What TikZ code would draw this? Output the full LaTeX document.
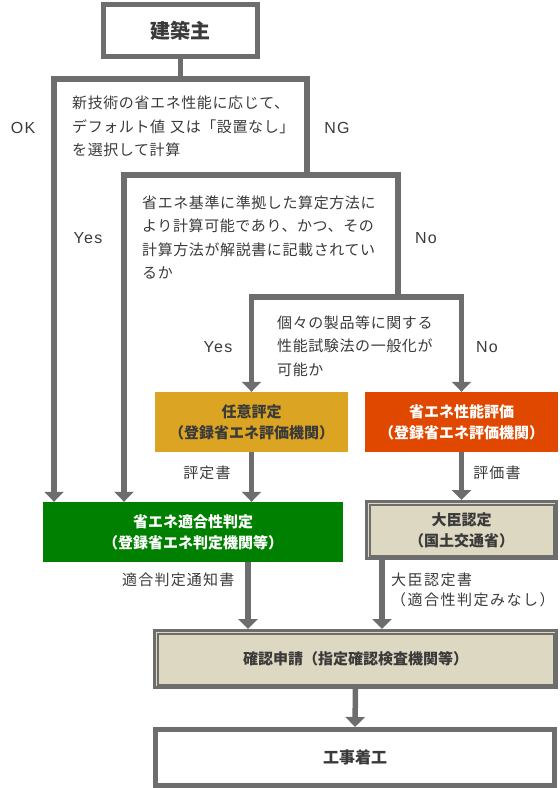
\documentclass[tikz,border=0pt]{standalone}
\usepackage{fontspec}
\setmainfont{Noto Sans CJK JP}
\newfontfamily\latinf[LetterSpace=8]{Liberation Sans}
\usetikzlibrary{arrows.meta,calc}
\definecolor{lineg}{HTML}{6D6D6D}
\definecolor{txtc}{HTML}{3A3A3A}
\definecolor{yelc}{HTML}{DBA422}
\definecolor{orac}{HTML}{E04800}
\definecolor{grnc}{HTML}{008000}
\definecolor{beic}{HTML}{DDD8C2}
\tikzset{
  frame/.style={draw=lineg, line width=5.5pt},
  arr/.style={frame, -{Triangle[width=19pt,length=10pt]}},
  arrboth/.style={frame, {Triangle[width=19pt,length=10pt]}-{Triangle[width=19pt,length=10pt]}},
  body/.style={inner sep=0pt, text=txtc, font=\fontsize{15pt}{23.5pt}\selectfont\addfontfeatures{LetterSpace=4}},
  lbl/.style={inner sep=0pt, text=txtc, font=\latinf\fontsize{16pt}{20pt}\selectfont},
  boxtxt/.style={inner sep=0pt, align=center, font=\bfseries\fontsize{15pt}{21pt}\selectfont},
  whitebox/.style={draw=lineg, line width=5pt, fill=white, text=txtc},
  colbox/.style={boxtxt, draw=none, minimum width=193pt, minimum height=60pt},
  dblbox/.style={boxtxt, draw=lineg, line width=3pt, fill=beic, text=txtc},
}
\begin{document}
\begin{tikzpicture}[x=1pt,y=-1pt]
\useasboundingbox (0,0) rectangle (560,788);
% boxes
\node[whitebox, boxtxt, minimum width=154pt, minimum height=52pt, font=\bfseries\fontsize{20pt}{24pt}\selectfont] (top) at (180.5,30.5) {建築主};
\node[colbox, fill=yelc, text=txtc] (yel) at (251.5,422) {任意評定\\（登録省エネ評価機関）};
\node[colbox, fill=orac, text=white] (ora) at (461.5,422) {省エネ性能評価\\（登録省エネ評価機関）};
\node[colbox, fill=grnc, text=white, minimum width=300pt] (grn) at (193,532) {省エネ適合性判定\\（登録省エネ判定機関等）};
\node[dblbox, minimum width=190pt, minimum height=57pt] (dai) at (461.5,530) {大臣認定\\（国土交通省）};
\draw[lineg, line width=2pt] ([shift={(4.5pt,4.5pt)}]dai.south west) rectangle ([shift={(-4.5pt,-4.5pt)}]dai.north east);
\node[dblbox, minimum width=402pt, minimum height=57pt] (kak) at (355.5,659) {確認申請（指定確認検査機関等）};
\draw[lineg, line width=2pt] ([shift={(4.5pt,4.5pt)}]kak.south west) rectangle ([shift={(-4.5pt,-4.5pt)}]kak.north east);
\node[whitebox, boxtxt, minimum width=399pt, minimum height=56pt, font=\bfseries\fontsize{16pt}{20pt}\selectfont] (koji) at (355,757.5) {工事着工};
% junction coordinates
\coordinate (j1) at (180.5,79);
\coordinate (f1l) at (54,79);
\coordinate (j2) at (307,175);
\coordinate (f2l) at (124,175);
\coordinate (j3) at (398,297);
% frames / connectors
\draw[frame] (top.south) -- (j1);
\draw[arr] (j2) |- (f1l) -- (f1l |- grn.north);
\draw[arr] (j3) |- (f2l) -- (f2l |- grn.north);
\draw[arrboth] (yel.north) |- (j3) -| (ora.north);
\draw[arr] (yel.south) -- (yel.south |- grn.north);
\draw[arr] (ora.south) -- (ora.south |- dai.north);
\draw[arr] (248,0 |- grn.south) -- (248,0 |- kak.north);
\draw[arr] (382,0 |- dai.south) -- (382,0 |- kak.north);
\draw[arr] (kak.south) -- (koji.north);
% decision texts
\node[body, anchor=base west, text width=250pt, align=left] (q1) at (72,108.7) {新技術の省エネ性能に応じて、\\デフォルト値 又は「設置なし」\\を選択して計算};
\node[body, anchor=base west, text width=260pt, align=left] (q2) at (142,208) {省エネ基準に準拠した算定方法に\\より計算可能であり、かつ、その\\計算方法が解説書に記載されてい\\るか};
\node[body, anchor=base west, text width=170pt, align=left] (q3) at (277,328) {個々の製品等に関する\\性能試験法の一般化が\\可能か};
% branch labels
\node[lbl] (ok) at (23,128) {OK};
\node[lbl] (ng) at (337,128) {NG};
\node[lbl] (yes1) at (88,238) {Yes};
\node[lbl] (no1) at (426,238) {No};
\node[lbl] (yes2) at (218,347) {Yes};
\node[lbl] (no2) at (487,347) {No};
% document labels
\node[body, font=\fontsize{15pt}{20pt}\selectfont\addfontfeatures{LetterSpace=8}] (hyoteisho) at (207,473) {評定書};
\node[body, font=\fontsize{15pt}{20pt}\selectfont\addfontfeatures{LetterSpace=8}] (hyokasho) at (497,473) {評価書};
\node[body, anchor=west, font=\fontsize{15pt}{20pt}\selectfont\addfontfeatures{LetterSpace=8}] (tsuchi) at (122,580) {適合判定通知書};
\node[body, anchor=base west, text width=180pt, align=left, font=\fontsize{15pt}{20pt}\selectfont\addfontfeatures{LetterSpace=10}] (daisho) at (391,585.7) {大臣認定書\\（適合性判定みなし）};
\end{tikzpicture}
\end{document}
